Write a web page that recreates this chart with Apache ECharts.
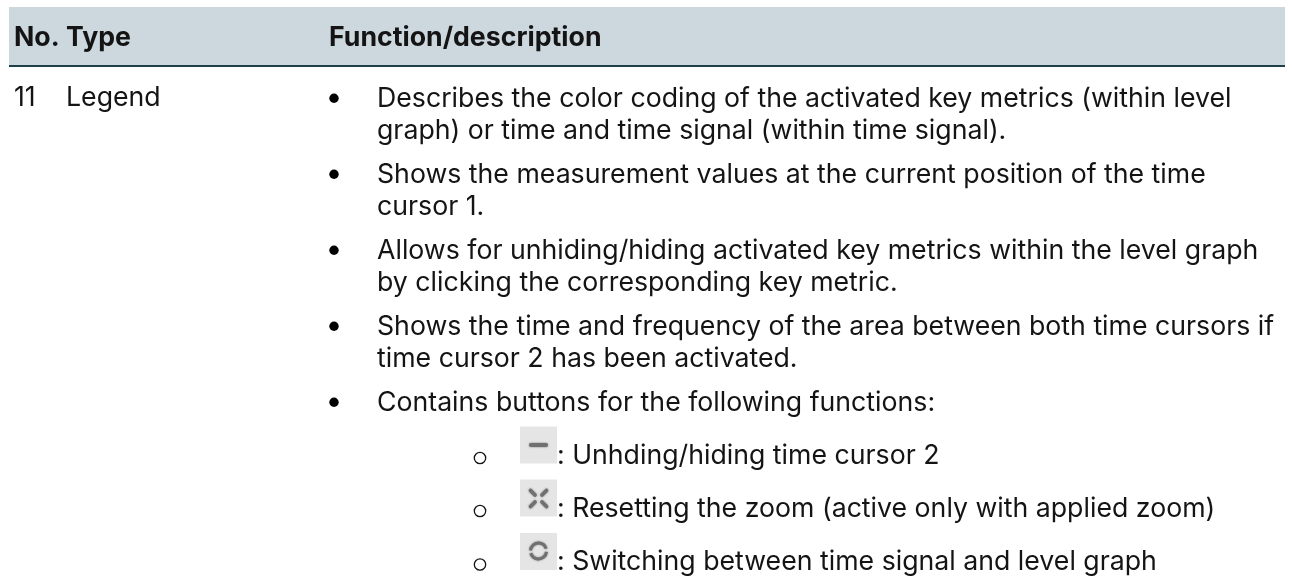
<!DOCTYPE html>
<html>
<head>
<meta charset="utf-8">
<style>
html, body { margin: 0; padding: 0; background: #fff; }
#main { width: 1293px; height: 585px; }
</style>
<script src="https://cdn.jsdelivr.net/npm/echarts@6/dist/echarts.min.js"></script>
</head>
<body>
<div id="main"></div>
<script>
const headers = ['No.', 'Type', 'Function/description'];
const rowNo = '11';
const rowType = 'Legend';
const bulletLines = [
  ['Describes the color coding of the activated key metrics (within level', 'graph) or time and time signal (within time signal).'],
  ['Shows the measurement values at the current position of the time', 'cursor 1.'],
  ['Allows for unhiding/hiding activated key metrics within the level graph', 'by clicking the corresponding key metric.'],
  ['Shows the time and frequency of the area between both time cursors if', 'time cursor 2 has been activated.'],
  ['Contains buttons for the following functions:']
];
const subItems = [
  ': Unhding/hiding time cursor 2',
  ': Resetting the zoom (active only with applied zoom)',
  ': Switching between time signal and level graph'
];

const font = 'Inter, "Noto Sans", sans-serif';
const textColor = '#141414';
const iconColor = '#707070';
const fontSize = 26.7;
const baselineOffset = 21; // text y to baseline

function label(x, baseline, text, weight) {
  return {
    type: 'text', x: x, y: baseline - baselineOffset,
    style: { text: text, fill: textColor, font: (weight || 400) + ' ' + fontSize + 'px ' + font }
  };
}

function iconLine(x1, y1, x2, y2, w) {
  return {
    type: 'line', shape: { x1: x1, y1: y1, x2: x2, y2: y2 },
    style: { stroke: iconColor, lineWidth: w, lineCap: 'round', shadowBlur: 2, shadowColor: iconColor }
  };
}

function iconArc(cx, cy, start, end) {
  return {
    type: 'arc', shape: { cx: cx, cy: cy, r: 8, startAngle: start, endAngle: end },
    style: { fill: 'none', stroke: iconColor, lineWidth: 3, shadowBlur: 2, shadowColor: iconColor }
  };
}

const items = [
  { type: 'rect', shape: { x: 9, y: 7, width: 1276, height: 58 }, style: { fill: '#cdd7de' } },
  { type: 'rect', shape: { x: 9, y: 65, width: 1276, height: 2 }, style: { fill: '#1f4049' } },
  label(14, 45, headers[0], 700),
  label(66, 45, headers[1], 700),
  label(329, 45, headers[2], 700),
  label(14, 105, rowNo),
  label(66, 105, rowType)
];

const bulletBase = [106, 182, 258, 334, 410];
bulletLines.forEach(function (lines, i) {
  items.push({ type: 'circle', shape: { cx: 334, cy: bulletBase[i] - 7.7, r: 4.7 }, style: { fill: '#000' } });
  lines.forEach(function (line, j) {
    items.push(label(377, bulletBase[i] + j * 32.3, line));
  });
});

const subBase = [463, 516, 569.5];
subItems.forEach(function (text, i) {
  const b = subBase[i];
  items.push({ type: 'circle', shape: { cx: 480, cy: b - 5, r: 5.7 }, style: { fill: 'none', stroke: textColor, lineWidth: 1.3 } });
  items.push({ type: 'rect', shape: { x: 520, y: b - 36.5, width: 37, height: 37 }, style: { fill: '#e5e5e5' } });
  items.push(label(557, b, text));
});

// button icons
items.push(iconLine(531, 445, 546, 445, 4));
[[-1, -1], [1, -1], [-1, 1], [1, 1]].forEach(function (d) {
  items.push(iconLine(538.5 + d[0] * 8, 498.5 + d[1] * 8, 538.5 + d[0] * 3.5, 498.5 + d[1] * 3.5, 3.6));
});
items.push(iconArc(538.5, 551, -3.05, -0.3));
items.push(iconArc(538.5, 551, 0.1, 2.85));

const myChart = echarts.init(document.getElementById('main'), null, { renderer: 'canvas' });
myChart.setOption({ animation: false, backgroundColor: '#fff', graphic: { elements: items } });
</script>
</body>
</html>
